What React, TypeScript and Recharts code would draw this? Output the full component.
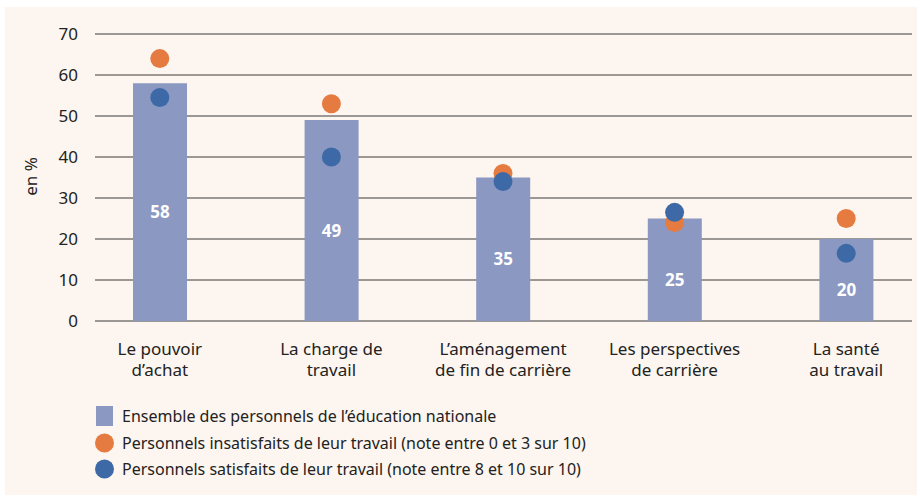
import { ComposedChart, Bar, Line, XAxis, YAxis, CartesianGrid, Legend, LabelList } from 'recharts';

const categories = [
  'Le pouvoir\nd’achat',
  'La charge de\ntravail',
  'L’aménagement\nde fin de carrière',
  'Les perspectives\nde carrière',
  'La santé\nau travail',
];
const ensemble = [58, 49, 35, 25, 20];
const insatisfaits = [64, 53, 36, 24, 25];
const satisfaits = [54.5, 40, 34, 26.5, 16.5];
const yTicks = [0, 10, 20, 30, 40, 50, 60, 70];

const seriesNames = {
  ensemble: 'Ensemble des personnels de l’éducation nationale',
  insatisfaits: 'Personnels insatisfaits de leur travail (note entre 0 et 3 sur 10)',
  satisfaits: 'Personnels satisfaits de leur travail (note entre 8 et 10 sur 10)',
};

const data = categories.map((c, i) => ({
  category: c,
  ensemble: ensemble[i],
  insatisfaits: insatisfaits[i],
  satisfaits: satisfaits[i],
}));

const FONT = '"Noto Sans", sans-serif';
const BG = '#fdf5ef';
const BAR = '#8b98c2';
const ORANGE = '#e57b40';
const BLUE = '#3e69a7';
const TEXT = '#222';

function XTick({ x, y, payload }: any) {
  const lines = String(payload.value).split('\n');
  return (
    <text x={x} y={y} textAnchor="middle" fontFamily={FONT} fontSize={17} fill={TEXT}>
      {lines.map((l, i) => (
        <tspan key={i} x={x} dy={i === 0 ? 34 : 21}>
          {l}
        </tspan>
      ))}
    </text>
  );
}

function YTick({ x, y, payload }: any) {
  return (
    <text x={x + 4} y={y} dy={6} textAnchor="end" fontFamily={FONT} fontSize={17} fill={TEXT}>
      {payload.value}
    </text>
  );
}

function GridLine(props: any) {
  return (
    <line
      key={props.key}
      x1={props.x1 + 21}
      x2={props.x2 - 20}
      y1={props.y1}
      y2={props.y2}
      stroke="#3a3a3a"
      strokeWidth={1}
    />
  );
}

function LegendContent() {
  const rows = [
    { key: 'ensemble', color: BAR, square: true },
    { key: 'insatisfaits', color: ORANGE, square: false },
    { key: 'satisfaits', color: BLUE, square: false },
  ];
  return (
    <div style={{ fontFamily: FONT, fontSize: 16, color: TEXT }}>
      {rows.map((r) => (
        <div key={r.key} style={{ display: 'flex', alignItems: 'center', height: 26.5 }}>
          <svg width={19} height={20} style={{ marginRight: 8 }}>
            {r.square ? (
              <rect x={1} y={0} width={17} height={20} fill={r.color} />
            ) : (
              <circle cx={9.5} cy={10} r={9.5} fill={r.color} />
            )}
          </svg>
          <span>{(seriesNames as any)[r.key]}</span>
        </div>
      ))}
    </div>
  );
}

export default function App() {
  return (
    <div style={{ position: 'absolute', left: 0, top: 0, width: 917, height: 495, background: '#fff', overflow: 'hidden' }}>
      <div style={{ position: 'absolute', left: 5, top: 7, right: 0, bottom: 0, background: BG }} />
      <div style={{ position: 'absolute', left: 0, top: 0 }}>
        <ComposedChart
          width={945}
          height={495}
          data={data}
          margin={{ top: 34, right: 13, bottom: 114, left: 34 }}
          barCategoryGap={0}
        >
          <CartesianGrid vertical={false} horizontal={GridLine} />
          <XAxis
            dataKey="category"
            axisLine={false}
            tickLine={false}
            interval={0}
            tick={<XTick />}
            height={60}
            tickSize={0}
            tickMargin={0}
          />
          <YAxis
            width={40}
            domain={[0, 70]}
            ticks={yTicks}
            axisLine={false}
            tickLine={false}
            tickSize={0}
            tickMargin={0}
            tick={<YTick />}
            label={{
              value: 'en %',
              angle: -90,
              position: 'insideLeft',
              offset: 0,
              dx: -3,
              dy: -1,
              style: { fontFamily: FONT, fontSize: 17, fill: TEXT, textAnchor: 'middle' },
            }}
          />
          <Legend
            verticalAlign="middle"
            align="center"
            layout="horizontal"
            content={<LegendContent />}
            wrapperStyle={{ left: 95, top: 403, width: 700 }}
          />
          <Bar dataKey="ensemble" name={seriesNames.ensemble} fill={BAR} barSize={54} isAnimationActive={false}>
            <LabelList
              dataKey="ensemble"
              position="center"
              dy={10}
              style={{ fontFamily: FONT, fontSize: 17, fontWeight: 700, fill: '#fff' }}
            />
          </Bar>
          <Line
            dataKey="insatisfaits"
            name={seriesNames.insatisfaits}
            stroke="none"
            dot={{ r: 9.5, fill: ORANGE, stroke: 'none' }}
            activeDot={false}
            isAnimationActive={false}
          />
          <Line
            dataKey="satisfaits"
            name={seriesNames.satisfaits}
            stroke="none"
            dot={{ r: 9.5, fill: BLUE, stroke: 'none' }}
            activeDot={false}
            isAnimationActive={false}
          />
        </ComposedChart>
      </div>
    </div>
  );
}
